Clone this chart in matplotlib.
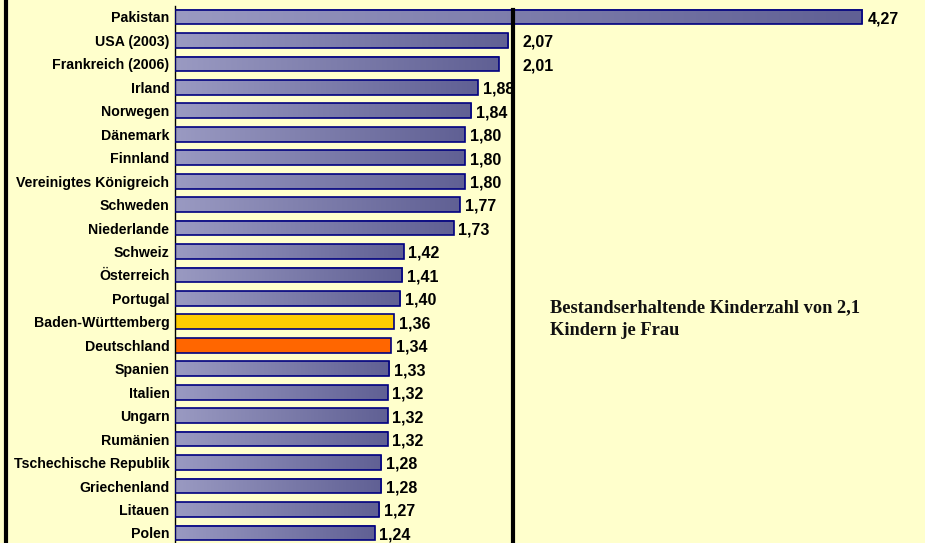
import numpy as np
from matplotlib import pyplot as plt
from matplotlib.lines import Line2D

countries = ["Pakistan", "USA (2003)", "Frankreich (2006)", "Irland", "Norwegen",
             "Dänemark", "Finnland", "Vereinigtes Königreich", "Schweden",
             "Niederlande", "Schweiz", "Österreich", "Portugal",
             "Baden-Württemberg", "Deutschland", "Spanien", "Italien", "Ungarn",
             "Rumänien", "Tschechische Republik", "Griechenland", "Litauen", "Polen"]
rates = [4.27, 2.07, 2.01, 1.88, 1.84, 1.80, 1.80, 1.80, 1.77, 1.73, 1.42, 1.41,
         1.40, 1.36, 1.34, 1.33, 1.32, 1.32, 1.32, 1.28, 1.28, 1.27, 1.24]
highlight = {"Baden-Württemberg": "#FFCC00", "Deutschland": "#FF6600"}
replacement = 2.1
note = "Bestandserhaltende Kinderzahl von 2,1\nKindern je Frau"

W, H = 925, 543
fig = plt.figure(figsize=(W / 100, H / 100), dpi=100, facecolor="#FFFFCC")

# plot area: left edge at x=175 px, runs to the right edge
ax = fig.add_axes([175 / W, 0, 1 - 175 / W, 1 - 6 / H])
ax.set_facecolor("#FFFFCC")

n = len(countries)
ypos = np.arange(n)
bh = 0.63

# per-bar gradient, light at the base, darker at the end
grad = np.linspace(0, 1, 256).reshape(1, -1)
c0 = np.array([0x9A, 0x9A, 0xC2]) / 255
c1 = np.array([0x60, 0x60, 0x94]) / 255
img = (c0[None, None, :] * (1 - grad[..., None]) + c1[None, None, :] * grad[..., None])

for y, name, v in zip(ypos, countries, rates):
    if name in highlight:
        ax.barh(y, v, height=bh, color=highlight[name], edgecolor="#000080",
                linewidth=1.2, zorder=2)
    else:
        ax.imshow(img, extent=(0, v, y + bh / 2, y - bh / 2), aspect="auto",
                  interpolation="bilinear", zorder=2)
        ax.barh(y, v, height=bh, facecolor="none", edgecolor="#000080",
                linewidth=1.2, zorder=3)

    # labels that would hit the 2,1 line go to its right side
    if replacement - 0.15 < v < replacement + 0.3:
        lx = replacement + 0.06
    else:
        lx = v + 0.03
    ax.text(lx, y + 0.08, f"{v:.2f}".replace(".", ","), ha="left", va="center",
            fontsize=11.5, fontweight="bold", family=["Liberation Sans", "DejaVu Sans"],
            color="black", zorder=4)

ax.axvline(replacement, ymin=0, ymax=0.993, color="black", linewidth=3, zorder=5)

ax.set_xlim(0, 750 / 161)
ax.set_ylim((H - 17) / 23.45, -11 / 23.45)
ax.set_yticks(ypos)
ax.set_yticklabels(countries, fontsize=10.2, fontweight="bold",
                   family=["Liberation Sans", "DejaVu Sans"])
ax.tick_params(axis="y", length=0, pad=4)
ax.set_xticks([])
for s in ["top", "right", "bottom"]:
    ax.spines[s].set_visible(False)
ax.spines["left"].set_color("black")
ax.spines["left"].set_linewidth(1.0)

ax.text(2.33, 12.9, note, ha="left", va="center", fontsize=13.2, fontweight="bold",
        family=["Liberation Serif", "DejaVu Serif"], color="#111111", linespacing=1.45)

# thick frame line at the left edge of the slide
fig.add_artist(Line2D([5.5 / W, 5.5 / W], [0, 1], transform=fig.transFigure,
                      color="black", linewidth=3))

plt.savefig("out.png", dpi=100, facecolor=fig.get_facecolor())
